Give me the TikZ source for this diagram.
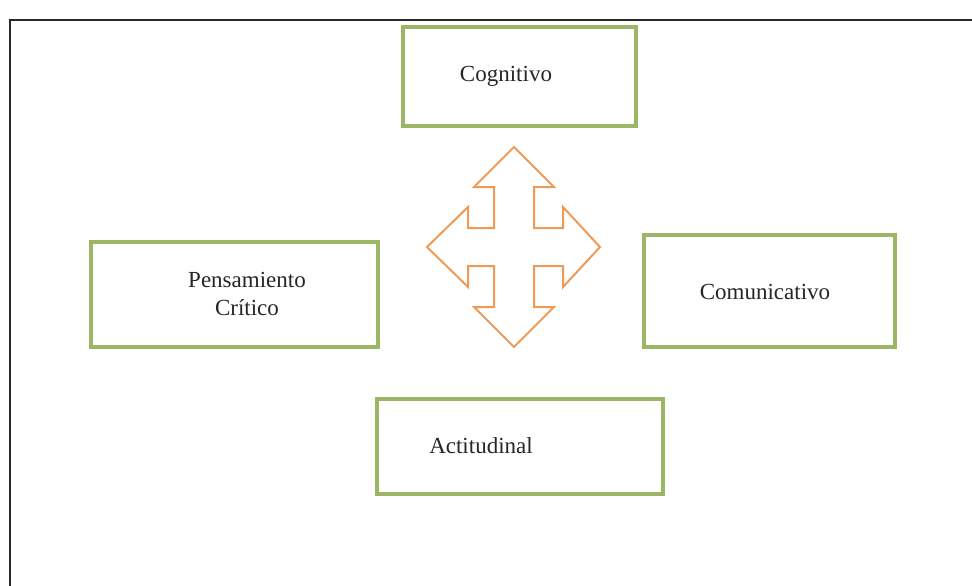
\documentclass[tikz,border=0pt]{standalone}
\usepackage{fontspec}
\setmainfont{Liberation Serif}
\definecolor{boxgreen}{RGB}{155,182,100}
\definecolor{arroworange}{RGB}{240,155,85}
\definecolor{framegray}{RGB}{40,40,40}
\begin{document}
\begin{tikzpicture}[x=1pt,y=-1pt,
  box/.style={draw=boxgreen,line width=3.5pt,fill=white,rectangle,inner sep=0pt},
  lbl/.style={font=\fontsize{23}{28}\selectfont,text=black!85,align=center,inner sep=0pt}]
\useasboundingbox (0,0) rectangle (972,586);
% frame
\coordinate (fa) at (10,586);
\coordinate (fb) at (10,20);
\coordinate (fc) at (975,20);
\draw[framegray,line width=1.2pt] (fa) -- (fb) -- (fc);
% boxes
\node[box,minimum width=233pt,minimum height=99pt] (cog) at (519.5,76.5) {};
\node[box,minimum width=287pt,minimum height=105pt] (pen) at (234.5,294.5) {};
\node[box,minimum width=251pt,minimum height=112pt] (com) at (769.5,291) {};
\node[box,minimum width=286pt,minimum height=95pt] (act) at (520,446.5) {};
% labels
\node[lbl] (cogt) at (506,76) {Cognitivo};
\node[lbl] (pent) at (247,294) {Pensamiento\\Crítico};
\node[lbl] (comt) at (765,292) {Comunicativo};
\node[lbl] (actt) at (481,446) {Actitudinal};
% quad arrow
\draw[arroworange,line width=2pt,line join=miter,fill=white]
 (514,147) -- (554,187) -- (534,187) -- (534,228) -- (563,228) -- (563,207)
 -- (600,247) -- (563,287) -- (563,266) -- (534,266) -- (534,307) -- (554,307)
 -- (514,347) -- (474,307) -- (494,307) -- (494,266) -- (468,266) -- (468,287)
 -- (427,247) -- (468,207) -- (468,228) -- (494,228) -- (494,187) -- (474,187) -- cycle;
\end{tikzpicture}
\end{document}
